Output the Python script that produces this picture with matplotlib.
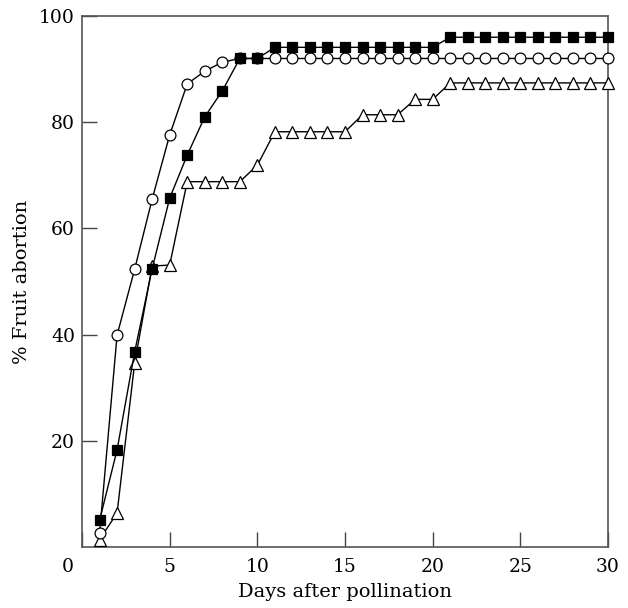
import numpy as np
from matplotlib import pyplot as plt
import matplotlib.transforms as mtransforms

plt.rcParams['font.family'] = 'DejaVu Serif'

days = np.arange(1, 31)

# filled squares
squares = [5.0, 18.3, 36.7, 52.4, 65.7, 73.8, 81.0, 85.9, 92.0, 92.0,
           94.1, 94.1, 94.1, 94.1, 94.1, 94.1, 94.1, 94.1, 94.1, 94.1,
           96.0, 96.0, 96.0, 96.0, 96.0, 96.0, 96.0, 96.0, 96.0, 96.0]

# open circles
circles = [2.6, 39.9, 52.3, 65.5, 77.6, 87.2, 89.6, 91.3, 92.0, 92.0,
           92.0, 92.0, 92.0, 92.0, 92.0, 92.0, 92.0, 92.0, 92.0, 92.0,
           92.0, 92.0, 92.0, 92.0, 92.0, 92.0, 92.0, 92.0, 92.0, 92.0]

# open triangles
triangles = [1.4, 6.4, 34.6, 52.9, 53.1, 68.8, 68.8, 68.8, 68.8, 71.9,
             78.2, 78.2, 78.2, 78.2, 78.2, 81.4, 81.4, 81.4, 84.3, 84.3,
             87.4, 87.4, 87.4, 87.4, 87.4, 87.4, 87.4, 87.4, 87.4, 87.4]

fig = plt.figure(figsize=(6.28, 6.08), dpi=100)
ax = fig.add_axes([0.1306, 0.1003, 0.8376, 0.8734])

ax.plot(days, triangles, color='black', lw=1.0, marker='^', ms=8.5,
        mfc='white', mec='black', mew=0.9, clip_on=False, zorder=3)
ax.plot(days, circles, color='black', lw=1.0, marker='o', ms=7.8,
        mfc='white', mec='black', mew=0.9, clip_on=False, zorder=4)
ax.plot(days, squares, color='black', lw=1.0, marker='s', ms=7,
        mfc='black', mec='black', mew=0.9, clip_on=False, zorder=5)

ax.set_xlim(0, 30)
ax.set_ylim(0, 100)
ax.set_xticks([0, 5, 10, 15, 20, 25, 30])
ax.set_yticks([20, 40, 60, 80, 100])
ax.tick_params(direction='in', length=11, width=1.0, color='#444444',
               labelsize=13.5)
ax.tick_params(axis='x', pad=8)
ax.tick_params(axis='y', pad=5)
for sp in ax.spines.values():
    sp.set_color('#555555')
    sp.set_linewidth(1.2)

# shift the "0" label left, off the corner
offset = mtransforms.ScaledTranslation(-14 / 100, 0, fig.dpi_scale_trans)
lab0 = ax.get_xticklabels()[0]
lab0.set_transform(lab0.get_transform() + offset)

ax.set_xlabel('Days after pollination', fontsize=14, labelpad=5)
ax.set_ylabel('% Fruit abortion', fontsize=14, labelpad=6)

plt.savefig('out.png', dpi=100)
